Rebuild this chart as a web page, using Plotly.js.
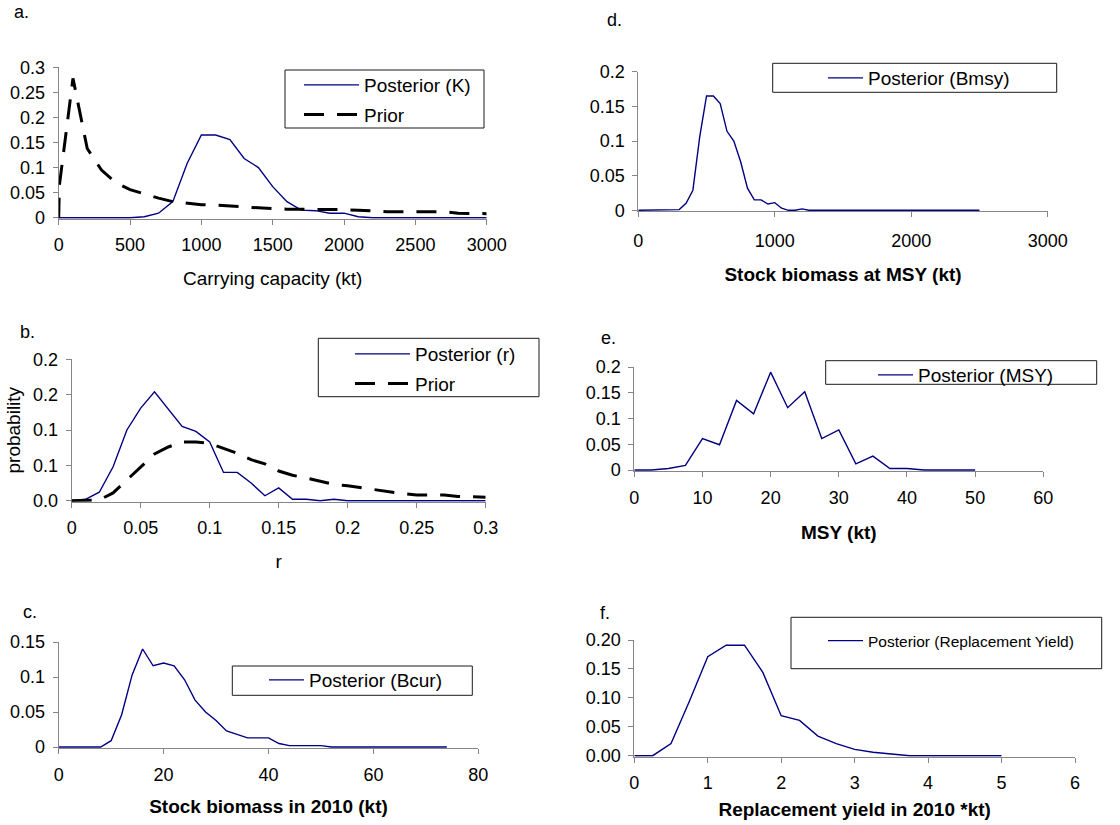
<!DOCTYPE html>
<html><head><meta charset="utf-8">
<script src="https://cdn.plot.ly/plotly-3.0.1.min.js"></script>
<style>html,body{margin:0;padding:0;background:#fff}#chart{width:1120px;height:825px}</style>
</head><body><div id="chart"></div>
<script>
// ---------- data ----------
const kPostX = [0,100,200,300,400,500,600,700,800,900,1000,1100,1200,1300,1400,1500,1600,1700,1800,1900,2000,2100,2200,2300,2400,2500,2600,2700,2800,2900,3000];
const kPostY = [0,0,0,0,0,0,0.002,0.009,0.032,0.108,0.165,0.165,0.156,0.118,0.100,0.062,0.032,0.015,0.014,0.009,0.009,0.002,0,0,0,0,0,0,0,0,0];
const kPriorX = [0,5,100,200,300,400,500,600,700,800,900,1000,1100,1200,1300,1400,1500,1600,1700,1800,1900,2000,2100,2200,2300,2400,2500,2600,2700,2800,2900,3000];
const kPriorY = [0,0.065,0.278,0.138,0.095,0.070,0.056,0.047,0.039,0.032,0.029,0.026,0.025,0.023,0.021,0.020,0.018,0.017,0.017,0.016,0.016,0.016,0.015,0.013,0.012,0.012,0.012,0.012,0.012,0.009,0.008,0.008];

const rX = [0,0.01,0.02,0.03,0.04,0.05,0.06,0.07,0.08,0.09,0.10,0.11,0.12,0.13,0.14,0.15,0.16,0.17,0.18,0.19,0.20,0.21,0.22,0.23,0.24,0.25,0.26,0.27,0.28,0.29,0.30];
const rPostY = [0,0.002,0.012,0.048,0.100,0.131,0.154,0.129,0.105,0.098,0.083,0.040,0.040,0.025,0.007,0.018,0.002,0.002,0,0.002,0,0,0,0,0,0,0,0,0,0,0];
const rPriorY = [0,0,0.001,0.011,0.029,0.048,0.066,0.076,0.083,0.083,0.081,0.074,0.067,0.058,0.052,0.042,0.036,0.032,0.027,0.023,0.021,0.018,0.015,0.012,0.010,0.008,0.008,0.008,0.006,0.006,0.005];
const rTickVals = [0,0.05,0.1,0.15,0.2];
const rTickText = ['0.0','0.1','0.1','0.2','0.2'];

const bcurX = [0,2,4,6,8,10,12,14,16,18,20,22,24,26,28,30,32,34,36,38,40,42,44,46,48,50,52,54,56,58,60,62,64,66,68,70,72,74];
const bcurY = [0,0,0,0,0,0.009,0.046,0.103,0.140,0.116,0.120,0.116,0.096,0.067,0.050,0.038,0.023,0.018,0.013,0.013,0.013,0.005,0.002,0.002,0.002,0.002,0,0,0,0,0,0,0,0,0,0,0,0];

const bmsyX = [0,50,100,150,200,250,300,350,400,450,500,550,600,650,700,750,800,850,900,950,1000,1050,1100,1150,1200,1250,1300,1350,1400,1450,1500,1550,1600,1650,1700,1750,1800,1850,1900,1950,2000,2050,2100,2150,2200,2250,2300,2350,2400,2450,2500];
const bmsyY = [0,0,0,0,0,0,0.001,0.010,0.029,0.106,0.165,0.165,0.154,0.114,0.100,0.070,0.032,0.015,0.015,0.009,0.011,0.003,0,0,0.002,0,0,0,0,0,0,0,0,0,0,0,0,0,0,0,0,0,0,0,0,0,0,0,0,0,0];

const msyX = [0,2.5,5,7.5,10,12.5,15,17.5,20,22.5,25,27.5,30,32.5,35,37.5,40,42.5,45,47.5,50];
const msyY = [0,0,0.003,0.009,0.061,0.049,0.135,0.109,0.190,0.121,0.152,0.061,0.078,0.012,0.027,0.003,0.003,0,0,0,0];

const ryX = [0,0.25,0.5,0.75,1,1.25,1.5,1.75,2,2.25,2.5,2.75,3,3.25,3.5,3.75,4,4.25,4.5,4.75,5];
const ryY = [0,0,0.021,0.094,0.171,0.191,0.191,0.144,0.069,0.061,0.034,0.021,0.011,0.006,0.003,0,0,0,0,0,0];

// ---------- styling / layout ----------
const W = 1120, H = 825;
const FONT = 'Liberation Sans, Arial, sans-serif';
const BLUE = '#000080';
const AXC = '#868686';

function xdom(l, r) { return [l / W, r / W]; }
function ydom(t, b) { return [1 - (b + 1) / H, 1 - t / H]; }
function yrng(t, b, max) { const pad = max / (b - t); return [-pad, max]; }

const axBase = {
  showgrid: false, zeroline: false, showline: true, linecolor: AXC, linewidth: 1,
  ticks: 'outside', ticklen: 5, tickcolor: AXC, tickwidth: 1,
  tickfont: { family: FONT, size: 18, color: '#000' }, layer: 'below traces', fixedrange: true
};
function xax(extra) { return Object.assign({}, axBase, { ticklabelstandoff: 5 }, extra); }
function yax(extra) { return Object.assign({}, axBase, { ticklabelstandoff: 4 }, extra); }
const titleFont = { family: FONT, size: 19, color: '#000' };
const boldFont = { family: FONT, size: 19, color: '#000', weight: 'bold' };

const P = {
  a: { l: 58.7, r: 486.7, t: 67.3, b: 217.7 },
  b: { l: 71.7, r: 485.7, t: 359.3, b: 500.7 },
  c: { l: 58.7, r: 478.3, t: 642, b: 747 },
  d: { l: 638.3, r: 1047.7, t: 71.7, b: 210.3 },
  e: { l: 634.3, r: 1043.3, t: 367, b: 470 },
  f: { l: 634.3, r: 1075, t: 640, b: 755.7 }
};

const postLine = { color: BLUE, width: 1.4 };
const priorLine = { color: '#000', width: 3, dash: '20px,13px' };

const traces = [
  { x: kPostX, y: kPostY, xaxis: 'x', yaxis: 'y', name: 'Posterior (K)', mode: 'lines', line: postLine, legend: 'legend', legendgroup: 'a1' },
  { x: kPriorX, y: kPriorY, xaxis: 'x', yaxis: 'y', name: 'Prior', mode: 'lines', line: priorLine, legend: 'legend', legendgroup: 'a2' },
  { x: rX, y: rPostY, xaxis: 'x2', yaxis: 'y2', name: 'Posterior (r)', mode: 'lines', line: postLine, legend: 'legend2', legendgroup: 'b1' },
  { x: rX, y: rPriorY, xaxis: 'x2', yaxis: 'y2', name: 'Prior', mode: 'lines', line: priorLine, legend: 'legend2', legendgroup: 'b2' },
  { x: bcurX, y: bcurY, xaxis: 'x3', yaxis: 'y3', name: 'Posterior (Bcur)', mode: 'lines', line: postLine, legend: 'legend3' },
  { x: bmsyX, y: bmsyY, xaxis: 'x4', yaxis: 'y4', name: 'Posterior (Bmsy)', mode: 'lines', line: postLine, legend: 'legend4' },
  { x: msyX, y: msyY, xaxis: 'x5', yaxis: 'y5', name: 'Posterior (MSY)', mode: 'lines', line: postLine, legend: 'legend5' },
  { x: ryX, y: ryY, xaxis: 'x6', yaxis: 'y6', name: 'Posterior (Replacement Yield)', mode: 'lines', line: postLine, legend: 'legend6' }
];

function leg(px, py, size, iw) {
  return {
    x: px / W, y: 1 - py / H, xanchor: 'left', yanchor: 'top',
    bgcolor: 'rgba(0,0,0,0)', borderwidth: 0, itemwidth: iw,
    font: { family: FONT, size: size, color: '#000' }, tracegroupgap: 2
  };
}
function box(l, t, r, b) {
  return { type: 'rect', xref: 'paper', yref: 'paper', x0: l / W, x1: r / W, y0: 1 - b / H, y1: 1 - t / H,
    line: { color: '#1a1a1a', width: 1 }, fillcolor: 'rgba(0,0,0,0)', layer: 'above' };
}
function lab(text, px, py) {
  return { text: text, xref: 'paper', yref: 'paper', x: px / W, y: 1 - py / H, xanchor: 'left', yanchor: 'middle',
    showarrow: false, font: { family: FONT, size: 18, color: '#000' } };
}

const layout = {
  width: W, height: H, margin: { l: 0, r: 0, t: 0, b: 0 },
  paper_bgcolor: '#fff', plot_bgcolor: 'rgba(0,0,0,0)', showlegend: true,
  xaxis: xax({ domain: xdom(P.a.l, P.a.r), anchor: 'y', range: [0, 3000], dtick: 500, tick0: 0,
    title: { text: 'Carrying capacity (kt)', font: titleFont, standoff: 17 } }),
  yaxis: yax({ domain: ydom(P.a.t, P.a.b), anchor: 'x', range: yrng(P.a.t, P.a.b, 0.3), dtick: 0.05, tick0: 0 }),
  xaxis2: xax({ domain: xdom(P.b.l, P.b.r), anchor: 'y2', range: [0, 0.3], dtick: 0.05, tick0: 0,
    title: { text: 'r', font: titleFont, standoff: 17 } }),
  yaxis2: yax({ domain: ydom(P.b.t, P.b.b), anchor: 'x2', range: yrng(P.b.t, P.b.b, 0.2), tickmode: 'array',
    tickvals: rTickVals, ticktext: rTickText }),
  xaxis3: xax({ domain: xdom(P.c.l, P.c.r), anchor: 'y3', range: [0, 80], dtick: 20, tick0: 0,
    title: { text: 'Stock biomass in 2010 (kt)', font: boldFont, standoff: 16 } }),
  yaxis3: yax({ domain: ydom(P.c.t, P.c.b), anchor: 'x3', range: yrng(P.c.t, P.c.b, 0.15), dtick: 0.05, tick0: 0 }),
  xaxis4: xax({ domain: xdom(P.d.l, P.d.r), anchor: 'y4', range: [0, 3000], dtick: 1000, tick0: 0, ticklabelstandoff: 8,
    title: { text: 'Stock biomass at MSY (kt)', font: boldFont, standoff: 17 } }),
  yaxis4: yax({ domain: ydom(P.d.t, P.d.b), anchor: 'x4', range: yrng(P.d.t, P.d.b, 0.2), dtick: 0.05, tick0: 0 }),
  xaxis5: xax({ domain: xdom(P.e.l, P.e.r), anchor: 'y5', range: [0, 60], dtick: 10, tick0: 0,
    title: { text: 'MSY (kt)', font: boldFont, standoff: 19 } }),
  yaxis5: yax({ domain: ydom(P.e.t, P.e.b), anchor: 'x5', range: yrng(P.e.t, P.e.b, 0.2), dtick: 0.05, tick0: 0 }),
  xaxis6: xax({ domain: xdom(P.f.l, P.f.r), anchor: 'y6', range: [0, 6], dtick: 1, tick0: 0,
    title: { text: 'Replacement yield in 2010 *kt)', font: boldFont, standoff: 10 } }),
  yaxis6: yax({ domain: ydom(P.f.t, P.f.b), anchor: 'x6', range: yrng(P.f.t, P.f.b, 0.2), dtick: 0.05, tick0: 0, tickformat: '.2f' }),
  legend: leg(299, 66, 19, 55),
  legend2: leg(350, 335, 19, 55),
  legend3: leg(264, 661, 19, 35),
  legend4: leg(823, 59, 19, 35),
  legend5: leg(873, 356, 19, 35),
  legend6: leg(823, 624, 15.5, 35),
  shapes: [
    box(285, 70, 484, 128),
    box(318.3, 338.3, 539, 396.7),
    box(232.3, 666, 472.3, 695.3),
    box(772.7, 63.3, 1056.7, 92.3),
    box(825.7, 360.7, 1096.7, 384.3),
    box(791, 617.3, 1101.7, 668.7)
  ],
  annotations: [
    lab('a.', 12, 12),
    lab('b.', 18, 332),
    lab('c.', 21, 612),
    lab('d.', 605, 20),
    lab('e.', 599, 338),
    lab('f.', 598, 613),
    { text: 'probability', xref: 'paper', yref: 'paper', x: 12.5 / W, y: 1 - 430 / H, xanchor: 'center', yanchor: 'middle',
      textangle: -90, showarrow: false, font: titleFont }
  ]
};

Plotly.newPlot('chart', traces, layout, { displayModeBar: false, staticPlot: true });
</script>
</body></html>
